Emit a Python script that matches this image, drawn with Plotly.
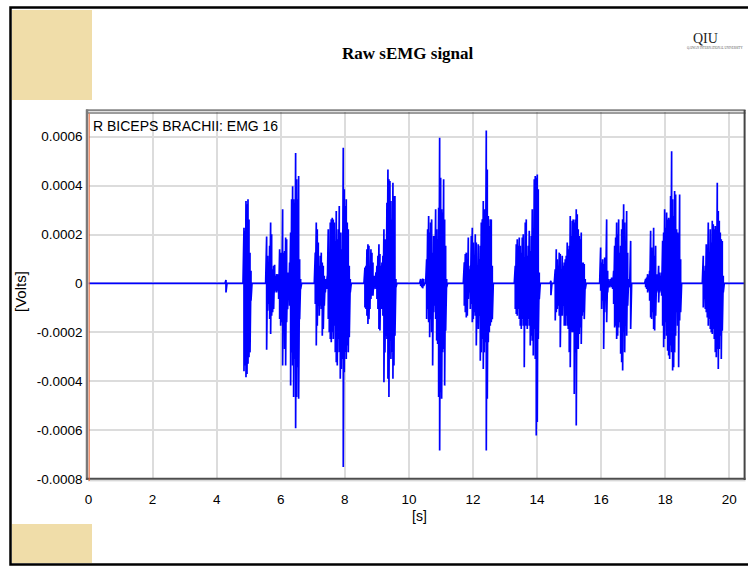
import plotly.graph_objects as go

W, H = 748, 566

# ---------------- data ----------------
UNIT = 1e-4      # amplitudes below are in units of 1e-4 V
DT = 0.0312      # spacing of the read-off columns, s
T_END = 20.46    # end of recording, s

x_ticks = [0, 2, 4, 6, 8, 10, 12, 14, 16, 18, 20]
y_ticks = [-0.0008, -0.0006, -0.0004, -0.0002, 0, 0.0002, 0.0004, 0.0006]
y_tick_text = ["-0.0008", "-0.0006", "-0.0004", "-0.0002", "0", "0.0002", "0.0004", "0.0006"]

# burst start times (s)
b_start = [4.291, 4.853, 5.560, 7.078, 8.628, 10.367, 10.554,
           11.729, 13.320, 14.433, 14.568, 15.985, 17.389, 19.188]

b00_hi = [0.14]
b00_lo = [-0.37]
b01_hi = [2.28, 2.15, 3.37, 3.24, 3.44, 2.62, 1.26, 0.52]
b01_lo = [-3.59, -3.36, -3.84, -3.70, -3.29, -3.02, -2.82, -0.71]
b02_hi = [1.92, 1.13, 0.72, 1.54, 2.49, 2.01, 0.58, 0.72, 0.76, 0.31, 0.38, 0.38, 0.31, 1.40, 1.26,
          0.99, 3.03, 1.26, 1.33, 1.88, 1.81, 0.45, 0.31, 0.86, 2.08, 3.44, 3.98, 3.44, 3.30, 5.34,
          4.26, 3.44, 4.39, 0.99, 0.18]
b02_lo = [-2.71, -1.12, -0.84, -1.46, -2.07, -1.32, -1.18, -1.05, -0.37, -0.30, -0.37, -0.30, -0.64, -1.46, -1.73,
          -1.59, -3.36, -1.59, -2.68, -3.36, -1.59, -1.05, -0.64, -0.91, -4.18, -2.82, -3.36, -4.65, -3.09, -5.92,
          -4.65, -3.43, -4.72, -1.46, -0.23]
b03_hi = [1.26, 2.49, 2.22, 1.67, 0.72, 1.13, 1.26, 0.86, 0.72, 0.31, 0.18, 0.11, 0.31, 2.22, 0.86,
          2.49, 2.62, 2.69, 2.62, 2.49, 1.74, 2.96, 1.81, 2.22, 3.17, 2.08, 1.40, 2.08, 5.55, 3.85,
          3.17, 3.44, 2.49, 2.22, 0.72, 0.18]
b03_lo = [-0.84, -2.54, -1.73, -0.91, -1.32, -0.91, -1.05, -2.14, -1.86, -0.91, -0.37, -0.16, -0.23, -1.46, -2.00,
          -2.27, -2.41, -2.00, -2.27, -1.73, -2.82, -3.22, -3.36, -2.27, -2.82, -3.90, -3.50, -3.09, -7.51, -3.63,
          -2.82, -3.09, -2.54, -2.82, -2.20, -0.37]
b04_hi = [0.65, 0.72, 1.40, 1.60, 1.54, 0.65, 1.40, 1.26, 0.86, 0.31, 0.18, 0.45, 0.72, 1.13, 1.60,
          1.20, 0.72, 0.86, 1.13, 2.22, 1.81, 0.86, 3.30, 4.66, 4.26, 4.19, 3.37, 2.62, 4.12, 3.58,
          3.58, 0.18]
b04_lo = [-0.98, -1.05, -1.32, -1.66, -1.46, -1.05, -0.64, -0.50, -0.50, -0.23, -0.16, -0.23, -0.64, -1.05, -1.86,
          -1.93, -0.91, -1.05, -1.32, -4.04, -2.82, -2.14, -2.27, -3.90, -4.65, -2.34, -3.09, -2.82, -3.90, -3.36,
          -2.14, -0.16]
b05_hi = [0.18, 0.11, 0.20, 0.18]
b05_lo = [-0.10, -0.16, -0.20, -0.10]
b06_hi = [0.99, 2.22, 2.76, 2.08, 2.49, 2.62, 1.26, 1.94, 0.99, 3.03, 2.22, 1.81, 3.10, 5.96, 4.32,
          3.03, 2.90, 4.26, 2.62, 1.54, 0.18]
b06_lo = [-1.46, -1.05, -1.59, -2.20, -1.46, -2.00, -3.36, -1.18, -0.91, -1.46, -2.34, -2.48, -4.65, -6.83, -4.45,
          -4.72, -2.82, -2.68, -4.18, -1.93, -0.16]
b07_hi = [0.86, 1.20, 1.26, 0.72, 1.88, 0.58, 0.72, 1.94, 2.28, 1.67, 1.13, 2.01, 1.67, 0.72, 1.60,
          0.99, 1.54, 2.49, 2.62, 3.37, 3.03, 2.69, 6.26, 4.66, 2.76, 2.35, 2.62, 2.62, 0.72]
b07_lo = [-0.91, -1.18, -1.39, -1.32, -0.64, -0.37, -1.05, -0.84, -1.59, -1.46, -1.18, -1.32, -2.54, -1.59, -1.86,
          -1.32, -3.16, -2.82, -2.27, -3.50, -2.82, -2.41, -6.83, -4.72, -2.41, -2.00, -1.73, -1.59, -1.46]
b08_hi = [0.72, 1.60, 1.81, 1.54, 1.88, 1.54, 1.26, 1.88, 2.01, 1.06, 2.49, 2.62, 1.13, 1.54, 2.15,
          1.33, 1.94, 3.03, 1.33, 4.26, 4.39, 4.32, 4.46, 3.85, 0.45]
b08_lo = [-1.05, -1.25, -1.32, -1.05, -1.46, -1.73, -1.86, -1.46, -1.73, -3.43, -1.46, -1.73, -1.86, -1.46, -1.73,
          -2.54, -2.14, -2.34, -2.95, -1.86, -3.09, -6.22, -5.67, -2.27, -0.64]
b09_hi = [0.11]
b09_lo = [-0.48]
b10_hi = [0.58, 1.40, 0.99, 0.72, 1.26, 1.20, 0.58, 1.13, 0.72, 0.86, 0.99, 1.13, 1.67, 1.40, 1.54,
          2.76, 1.94, 2.56, 2.62, 2.49, 2.62, 3.03, 2.83, 2.22, 1.94, 1.81, 2.08, 0.86, 0.86, 0.79, 0.18]
b10_lo = [-1.52, -1.18, -1.05, -0.91, -1.32, -2.61, -1.05, -1.32, -0.91, -1.73, -1.73, -1.32, -1.73, -1.86, -2.82,
          -3.43, -1.59, -2.00, -2.00, -4.52, -2.82, -5.81, -2.07, -2.68, -2.07, -1.80, -2.48, -1.32, -1.18, -1.46, -0.23]
b11_hi = [1.47, 0.86, 0.99, 0.79, 1.06, 0.45, 2.62, 0.52, 0.18, 0.11, 0.18, 0.24, 0.18, 0.52, 1.54,
          1.88, 2.49, 2.01, 2.62, 1.26, 1.54, 2.22, 2.62, 3.24, 2.49, 1.26, 2.96, 1.26, 0.18, 0.11, 1.74]
b11_lo = [-0.30, -1.05, -0.71, -2.68, -1.18, -0.37, -1.59, -0.37, -0.16, -0.16, -0.10, -0.16, -0.23, -0.84, -1.80,
          -1.73, -2.27, -2.14, -1.80, -1.59, -2.88, -3.22, -3.56, -2.00, -2.82, -1.59, -2.14, -0.91, -0.16, -0.16, -1.86]
b12_hi = [0.18, 0.24, 0.38, 0.31, 0.52, 2.15, 1.47, 0.72, 2.28, 1.13, 1.54, 0.38, 0.31, 0.72, 0.45,
          0.31, 0.45, 1.74, 2.08, 3.03, 2.28, 2.90, 2.62, 2.69, 2.62, 3.58, 5.41, 3.44, 2.76, 3.78,
          3.64, 2.22, 2.08, 2.01, 3.64, 0.99]
b12_lo = [-0.16, -0.23, -0.37, -0.30, -0.71, -1.39, -1.46, -1.18, -1.86, -1.93, -1.32, -0.37, -0.30, -0.78, -0.37,
          -0.30, -0.50, -1.73, -2.61, -2.27, -1.59, -2.14, -2.75, -2.95, -3.09, -2.54, -2.82, -3.56, -3.43, -2.82,
          -2.14, -1.18, -1.73, -3.43, -1.52, -1.18]
b13_hi = [1.13, 0.52, 0.72, 1.60, 1.20, 2.49, 1.26, 2.22, 1.67, 2.56, 2.42, 2.22, 2.35, 2.15, 4.12,
          2.96, 2.56, 2.08, 1.81, 1.74, 0.31]
b13_lo = [-0.98, -0.64, -1.05, -1.18, -1.39, -1.73, -1.46, -1.86, -2.00, -2.07, -1.86, -2.27, -2.82, -3.02, -2.68,
          -3.50, -2.68, -2.14, -3.09, -1.93, -0.37]

b_hi = [b00_hi, b01_hi, b02_hi, b03_hi, b04_hi, b05_hi, b06_hi, b07_hi, b08_hi, b09_hi, b10_hi, b11_hi, b12_hi, b13_hi]
b_lo = [b00_lo, b01_lo, b02_lo, b03_lo, b04_lo, b05_lo, b06_lo, b07_lo, b08_lo, b09_lo, b10_lo, b11_lo, b12_lo, b13_lo]

# ---------------- build the trace ----------------
xs, ys = [0.0], [0.0]
for t0, his, los in zip(b_start, b_hi, b_lo):
    xs.append(t0 - DT)
    ys.append(0.0)
    for i, (h, l) in enumerate(zip(his, los)):
        t = t0 + i * DT
        xs += [t, t]
        ys += [h * UNIT, l * UNIT]
    xs.append(t0 + len(his) * DT)
    ys.append(0.0)
xs.append(T_END)
ys.append(0.0)

# ---------------- layout helpers ----------------
def px(x):
    return x / W

def py(y):
    return 1 - y / H

PL, PR, PT, PB = 88.5, 744.0, 112.0, 479.0
SANS = "Liberation Sans, Arial, sans-serif"
SERIF = "Liberation Serif, Times New Roman, serif"

fig = go.Figure()
fig.add_trace(go.Scatter(x=xs, y=ys, mode="lines",
                         line=dict(color="#0000FF", width=1.7, simplify=False),
                         hoverinfo="skip", showlegend=False))

shapes = []
# outer slide border
shapes.append(dict(type="rect", xref="paper", yref="paper",
                   x0=px(10.5), x1=px(751), y0=py(564.5), y1=py(7.5),
                   line=dict(color="black", width=2.5), fillcolor="rgba(0,0,0,0)", layer="above"))
# beige corner blocks
for (a, b, c, d) in [(12, 92, 10, 100), (12, 92, 524, 563)]:
    shapes.append(dict(type="rect", xref="paper", yref="paper",
                       x0=px(a), x1=px(b), y0=py(d), y1=py(c),
                       line=dict(width=0), fillcolor="#F0DDA9", layer="below"))
# plot frame
def seg(x0, y0, x1, y1, color, width):
    shapes.append(dict(type="line", xref="paper", yref="paper",
                       x0=px(x0), y0=py(y0), x1=px(x1), y1=py(y1),
                       line=dict(color=color, width=width), layer="above"))

seg(86, 110.3, 745.5, 110.3, "#858585", 2)
seg(88, 113, 745.5, 113, "#3A3A3A", 1)
seg(87, 109.5, 87, 480, "#7A7A7A", 2.5)
seg(744.6, 110, 744.6, 480, "#454545", 2)
seg(86, 478.7, 745.5, 478.7, "#4D4D4D", 2)
seg(88, 480.8, 745.5, 480.8, "#C8C8C8", 1)
seg(89.2, 113.5, 89.2, 481, "#EE6633", 1)

annotations = [
    dict(text="<b>Raw sEMG signal</b>", x=px(408), y=py(53), xref="paper", yref="paper",
         showarrow=False, xanchor="center", yanchor="middle",
         font=dict(family=SERIF, size=17, color="black")),
    dict(text="QIU", x=px(705.5), y=py(38), xref="paper", yref="paper",
         showarrow=False, xanchor="center", yanchor="middle",
         font=dict(family=SERIF, size=14, color="#222222")),
    dict(text="QAIWAN INTERNATIONAL UNIVERSITY", x=px(715), y=py(48), xref="paper", yref="paper",
         showarrow=False, xanchor="center", yanchor="middle",
         font=dict(family=SERIF, size=3, color="#555555")),
    dict(text="R BICEPS BRACHII: EMG 16", x=px(90.5), y=py(116), xref="paper", yref="paper",
         showarrow=False, xanchor="left", yanchor="top",
         font=dict(family=SANS, size=14, color="black")),
    dict(text="[s]", x=px(419.5), y=py(515.5), xref="paper", yref="paper",
         showarrow=False, xanchor="center", yanchor="middle",
         font=dict(family=SANS, size=14, color="black")),
    dict(text="[Volts]", x=px(20), y=py(292), xref="paper", yref="paper",
         showarrow=False, xanchor="center", yanchor="middle", textangle=-90,
         font=dict(family=SANS, size=15, color="black")),
]

fig.update_layout(
    template="none",
    width=W, height=H, autosize=False,
    margin=dict(l=0, r=0, t=0, b=0, pad=0),
    paper_bgcolor="white", plot_bgcolor="white",
    showlegend=False,
    shapes=shapes, annotations=annotations,
    xaxis=dict(domain=[px(PL), px(PR)], range=[0, (PR - PL) / 32.04],
               tickvals=x_ticks, ticktext=[str(v) for v in x_ticks],
               showgrid=True, gridcolor="#DCDCDC", gridwidth=1.5,
               zeroline=False, showline=False, ticks="", automargin=False,
               ticklabelstandoff=10,
               tickfont=dict(family=SANS, size=13.5, color="black")),
    yaxis=dict(domain=[py(PB), py(PT)], range=[-0.0008, (284.3 - PT) * 4.07e-6],
               tickvals=y_ticks, ticktext=y_tick_text,
               showgrid=True, gridcolor="#DCDCDC", gridwidth=1.5,
               zeroline=False, showline=False, ticks="", automargin=False,
               ticklabelstandoff=5,
               tickfont=dict(family=SANS, size=13.5, color="black")),
)

fig.write_html("out.html", config={"displayModeBar": False},
               post_script="document.body.style.margin='0';document.body.style.padding='0';")
